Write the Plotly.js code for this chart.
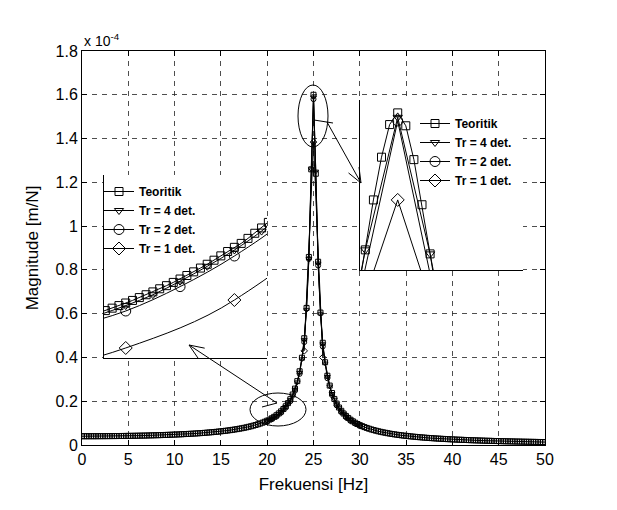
<!DOCTYPE html>
<html><head><meta charset="utf-8">
<script src="https://cdn.plot.ly/plotly-3.0.1.min.js"></script>
<style>html,body{margin:0;padding:0;background:#fff}</style>
</head><body>
<div id="chart" style="width:617px;height:510px"></div>
<script>
// ---------------- data (magnitude in units of 1e-4 m/N) ----------------
const seriesNames = ['Teoritik', 'Tr = 4 det.', 'Tr = 2 det.', 'Tr = 1 det.'];
const xTickVals = [0,5,10,15,20,25,30,35,40,45,50];
const yTickVals = [0,0.2,0.4,0.6,0.8,1,1.2,1.4,1.6,1.8];

const freq = [0,0.25,0.5,0.75,1,1.25,1.5,1.75,2,2.25,2.5,2.75,3,3.25,3.5,3.75,
4,4.25,4.5,4.75,5,5.25,5.5,5.75,6,6.25,6.5,6.75,7,7.25,7.5,7.75,8,8.25,8.5,8.75,9,9.25,9.5,9.75,
10,10.25,10.5,10.75,11,11.25,11.5,11.75,12,12.25,12.5,12.75,13,13.25,13.5,13.75,14,14.25,14.5,14.75,
15,15.25,15.5,15.75,16,16.25,16.5,16.75,17,17.25,17.5,17.75,18,18.25,18.5,18.75,19,19.25,19.5,19.75,
20,20.25,20.5,20.75,21,21.25,21.5,21.75,22,22.25,22.5,22.75,23,23.25,23.5,23.75,24,24.25,24.5,24.75,
25,25.25,25.5,25.75,26,26.25,26.5,26.75,27,27.25,27.5,27.75,28,28.25,28.5,28.75,29,29.25,29.5,29.75,
30,30.25,30.5,30.75,31,31.25,31.5,31.75,32,32.25,32.5,32.75,33,33.25,33.5,33.75,34,34.25,34.5,34.75,
35,35.25,35.5,35.75,36,36.25,36.5,36.75,37,37.25,37.5,37.75,38,38.25,38.5,38.75,39,39.25,39.5,39.75,
40,40.25,40.5,40.75,41,41.25,41.5,41.75,42,42.25,42.5,42.75,43,43.25,43.5,43.75,44,44.25,44.5,44.75,
45,45.25,45.5,45.75,46,46.25,46.5,46.75,47,47.25,47.5,47.75,48,48.25,48.5,48.75,49,49.25,49.5,49.75,50];

const teoritik = [0.0400,0.0400,0.0400,0.0400,0.0401,0.0401,0.0401,0.0402,0.0403,0.0403,
0.0404,0.0405,0.0406,0.0407,0.0408,0.0409,
0.0411,0.0412,0.0413,0.0415,0.0417,0.0418,0.0420,0.0422,0.0424,0.0427,0.0429,0.0431,
0.0434,0.0437,0.0440,0.0443,0.0446,0.0449,0.0452,0.0456,0.0460,0.0463,0.0468,0.0472,
0.0476,0.0481,0.0486,0.0491,0.0496,0.0502,0.0507,0.0513,0.0520,0.0526,0.0533,0.0541,
0.0548,0.0556,0.0565,0.0574,0.0583,0.0593,0.0603,0.0614,0.0625,0.0637,0.0650,0.0663,
0.0678,0.0693,0.0709,0.0726,0.0744,0.0764,0.0784,0.0807,0.0831,0.0856,0.0884,0.0914,
0.0947,0.0982,0.1021,0.1064,0.1111,0.1163,0.1221,0.1286,0.1359,0.1441,0.1536,0.1645,
0.1770,0.1913,0.2091,0.2307,0.2576,0.2918,0.3368,0.3987,0.4878,0.6262,0.8591,1.2594,
1.6000,1.2392,0.8373,0.6049,0.4671,0.3781,0.3165,0.2714,0.2373,0.2104,0.1889,0.1712,
0.1563,0.1437,0.1329,0.1236,0.1154,0.1081,0.1017,0.0959,0.0907,0.0862,0.0819,0.0780,
0.0744,0.0711,0.0681,0.0653,0.0627,0.0602,0.0580,0.0559,0.0539,0.0520,0.0503,0.0486,
0.0471,0.0456,0.0442,0.0429,0.0417,0.0405,0.0394,0.0383,0.0373,0.0363,0.0353,0.0345,
0.0336,0.0328,0.0320,0.0312,0.0305,0.0298,0.0292,0.0285,0.0279,0.0273,0.0267,0.0262,
0.0256,0.0251,0.0246,0.0241,0.0237,0.0232,0.0228,0.0224,0.0219,0.0216,0.0212,0.0208,
0.0204,0.0201,0.0197,0.0194,0.0191,0.0188,0.0184,0.0181,0.0179,0.0176,0.0173,0.0170,
0.0168,0.0165,0.0163,0.0160,0.0158,0.0156,0.0153,0.0151,0.0149,0.0147,0.0145,0.0143,
0.0141,0.0139,0.0137,0.0135,0.0133];

// fine-resolution theoretical curve shown in the insets
const freqFine1 = [20.75,20.8125,20.875,20.9375,21,21.0625,21.125,21.1875,21.25,21.3125,21.375,21.4375,
21.5,21.5625,21.625,21.6875,21.75,21.8125,21.875,21.9375,22,22.0625,22.125,22.1875,22.25,22.3125,22.375];
const teoritikFine1 = [0.1286,0.1303,0.1321,0.1340,0.1359,0.1378,0.1399,0.1420,0.1441,0.1464,0.1487,0.1511,
0.1536,0.1562,0.1589,0.1617,0.1645,0.1675,0.1707,0.1739,0.1770,0.1799,0.1836,0.1874,0.1913,0.1954,0.1998];
const freqFine2 = [24.6875,24.75,24.8125,24.875,24.9375,25,25.0625,25.125,25.1875,25.25,25.3125];
const teoritikFine2 = [1.142,1.260,1.384,1.490,1.571,1.600,1.568,1.484,1.372,1.250,1.125];

const freqTr4 = [20,20.25,20.5,20.75,21,21.25,21.5,21.75,22,22.25,22.5,22.75,23,23.25,23.5,23.75,
24,24.25,24.5,24.75,25,25.25,25.5,25.75,26,26.25,26.5,26.75,27,27.25,27.5,27.75,28,28.25,28.5,28.75,
29,29.25,29.5,29.75,30];
const magTr4 = [0.110,0.115,0.121,0.127,0.134,0.142,0.152,0.163,0.175,0.189,0.206,0.227,0.254,0.287,0.331,0.392,
0.480,0.617,0.850,1.260,1.589,1.250,0.830,0.598,0.461,0.373,0.312,0.268,0.234,0.208,0.187,0.169,0.154,0.142,0.131,0.122,
0.114,0.107,0.100,0.095,0.090];
const freqTr2 = [20,20.5,21,21.5,22,22.5,23,23.5,24,24.5,25,25.5,26,26.5,27,27.5,28,28.5,29,29.5,30];
const magTr2 = [0.107,0.118,0.130,0.148,0.1706,0.200,0.248,0.325,0.470,0.850,1.580,0.820,0.450,0.305,0.228,0.181,0.150,0.127,0.110,0.098,0.087];
const freqTr1 = [15,16,17,18,19,20,21,22,23,24,25,26,27,28,29,30,31,32,33,34,35];
const magTr1 = [0.048,0.052,0.057,0.063,0.070,0.082,0.1027,0.1381,0.210,0.430,1.384,0.400,0.195,0.128,0.095,0.075,0.062,0.053,0.046,0.040,0.036];

// ---------------- layout geometry (pixels) ----------------
const PL = 82, PR = 545, PT = 51, PB = 445, W = 617, H = 510;
const px = x => (x - PL) / (PR - PL);
const py = y => (PB - y) / (PB - PT);

const inset1 = {l:104, r:267, t:175, b:358, xr:[20.8, 22.3], yr:[0.0953, 0.2304]};
const inset2 = {l:360, r:523, t:100, b:270, xr:[24.709, 25.967], yr:[1.21, 1.632]};

const FONT = 'Liberation Sans, Arial, Helvetica, sans-serif';
const symbols = ['square-open','triangle-down-open','circle-open','diamond-open'];

// main plot: theoretical curve over the full band, measured series around the peak
const inBand = (xs, ys, lo, hi) => {
  const ox = [], oy = [];
  xs.forEach((v, k) => { if (v >= lo && v <= hi) { ox.push(v); oy.push(ys[k]); } });
  return [ox, oy];
};
const mainSeries = [
  [freq, teoritik],
  [freqTr4, magTr4],
  [freqTr2, magTr2],
  inBand(freqTr1, magTr1, 24, 26)
];

const traces = [];
mainSeries.forEach((s, i) => {
  traces.push({
    x: s[0], y: s[1], type: 'scatter', mode: 'lines+markers',
    line: {color: '#000', width: 1},
    marker: {symbol: symbols[i], size: i === 0 ? 5 : 5, color: '#000', line: {width: 1, color: '#000'}},
    showlegend: false, xaxis: 'x', yaxis: 'y', hoverinfo: 'skip'
  });
});
// insets
const insetData = [
  {ax: '2', leg: 'legend2', X: [freqFine1, freqTr4, freqTr2, freqTr1], Y: [teoritikFine1, magTr4, magTr2, magTr1], shape: 'spline'},
  {ax: '3', leg: 'legend3', X: [freqFine2, freqTr4, freqTr2, freqTr1], Y: [teoritikFine2, magTr4, magTr2, magTr1], shape: 'linear'}
];
const inSizes = [8, 8, 10, 10];
insetData.forEach(d => {
  for (let i = 0; i < 4; i++) {
    traces.push({
      x: d.X[i], y: d.Y[i], type: 'scatter', mode: 'lines+markers', name: seriesNames[i],
      line: {color: '#000', width: 1, shape: i === 0 ? 'linear' : d.shape},
      marker: {symbol: symbols[i], size: inSizes[i], color: '#000', line: {width: 1, color: '#000'}},
      xaxis: 'x' + d.ax, yaxis: 'y' + d.ax, legend: d.leg, hoverinfo: 'skip'
    });
  }
});

// shapes: ellipses and arrows
function lineShape(a, b) {
  return {type: 'line', xref: 'paper', yref: 'paper', x0: px(a[0]), y0: py(a[1]), x1: px(b[0]), y1: py(b[1]),
          line: {color: '#000', width: 1}, layer: 'above'};
}
function arrow(tail, tip, len, ang) {
  const dx = tail[0] - tip[0], dy = tail[1] - tip[1];
  const d = Math.hypot(dx, dy), ux = dx / d, uy = dy / d, a = ang * Math.PI / 180;
  const b1 = [tip[0] + len * (ux * Math.cos(a) - uy * Math.sin(a)), tip[1] + len * (ux * Math.sin(a) + uy * Math.cos(a))];
  const b2 = [tip[0] + len * (ux * Math.cos(-a) - uy * Math.sin(-a)), tip[1] + len * (ux * Math.sin(-a) + uy * Math.cos(-a))];
  return [lineShape(tail, tip), lineShape(tip, b1), lineShape(tip, b2)];
}
function ellipse(x0, y0, x1, y1) {
  return {type: 'circle', xref: 'paper', yref: 'paper', x0: px(x0), x1: px(x1), y0: py(y1), y1: py(y0),
          line: {color: '#000', width: 1}, layer: 'above'};
}
const shapes = [
  ellipse(250, 393, 306, 426),
  ellipse(298, 85, 328, 147),
  lineShape([262, 407], [277, 403]),
  ...arrow([277, 403], [189, 345], 16, 22),
  lineShape([314, 120], [333, 123]),
  ...arrow([327, 122], [361, 183], 16, 22)
];

const insetAxis = (dom, rng) => ({
  domain: dom, range: rng, showgrid: false, zeroline: false, showticklabels: false, ticks: '',
  showline: true, linecolor: '#000', linewidth: 1, mirror: false, fixedrange: true
});

const baseAxis = {
  showgrid: true, gridcolor: '#222', gridwidth: 0.8, griddash: '5px,5px',
  showline: true, linecolor: '#000', linewidth: 1, mirror: 'ticks',
  ticks: 'inside', ticklen: 5, tickcolor: '#000', tickwidth: 1, zeroline: false,
  tickfont: {family: FONT, size: 16, color: '#000'}
};

const layout = {
  width: W, height: H,
  margin: {l: PL, r: W - PR, t: PT, b: H - PB, pad: 0},
  paper_bgcolor: '#fff', plot_bgcolor: '#fff',
  font: {family: FONT, color: '#000'},
  xaxis: Object.assign({}, baseAxis, {
    range: [0, 50], tickvals: xTickVals, domain: [0, 1],
    title: {text: 'Frekuensi [Hz]', font: {family: FONT, size: 17, color: '#000'}, standoff: 10}
  }),
  yaxis: Object.assign({}, baseAxis, {
    range: [0, 1.8], tickvals: yTickVals, domain: [0, 1],
    title: {text: 'Magnitude [m/N]', font: {family: FONT, size: 17, color: '#000'}, standoff: 12}
  }),
  xaxis2: Object.assign(insetAxis([px(inset1.l), px(inset1.r)], inset1.xr), {anchor: 'y2'}),
  yaxis2: Object.assign(insetAxis([py(inset1.b), py(inset1.t)], inset1.yr), {anchor: 'x2'}),
  xaxis3: Object.assign(insetAxis([px(inset2.l), px(inset2.r)], inset2.xr), {anchor: 'y3'}),
  yaxis3: Object.assign(insetAxis([py(inset2.b), py(inset2.t)], inset2.yr), {anchor: 'x3'}),
  legend2: {x: px(99), y: py(177), xanchor: 'left', yanchor: 'top', bgcolor: 'rgba(0,0,0,0)', borderwidth: 0,
            font: {family: FONT, size: 12, color: '#000', weight: 'bold'}, itemwidth: 30, tracegroupgap: 0},
  legend3: {x: px(415), y: py(109), xanchor: 'left', yanchor: 'top', bgcolor: 'rgba(0,0,0,0)', borderwidth: 0,
            font: {family: FONT, size: 12, color: '#000', weight: 'bold'}, itemwidth: 30, tracegroupgap: 0},
  annotations: [{
    text: 'x 10<sup>-4</sup>', xref: 'paper', yref: 'paper', x: 0, y: 1, xanchor: 'left', yanchor: 'bottom',
    showarrow: false, font: {family: FONT, size: 14, color: '#000'}, yshift: 0
  }],
  shapes: shapes
};

Plotly.newPlot('chart', traces, layout, {staticPlot: true, displayModeBar: false});
</script>
</body></html>
